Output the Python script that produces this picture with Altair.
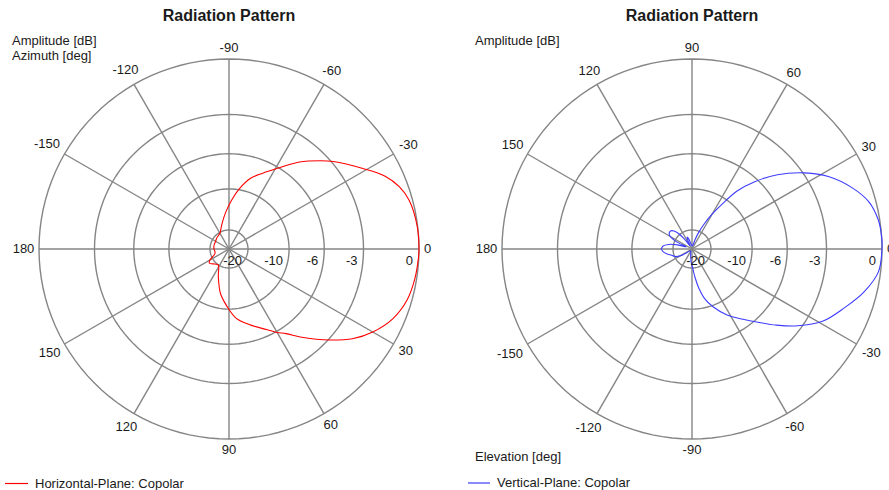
import altair as alt
import pandas as pd

# ---------------- data ----------------
# Horizontal plane (azimuth, clockwise: -90 at top), amplitude in dB
H_ANG = [-180, -165, -150, -139, -130, -120, -107, -96, -87, -80,
         -73, -66, -59, -51, -44, -40, -31, -25, -20, -15,
         -7, 0, 3, 9, 16, 23, 30, 36, 42, 46,
         51, 56, 60, 65, 74, 84, 92, 101, 111, 124,
         133, 144, 150, 163, 180]
H_DB = [-22.0, -21.8, -21.8, -21.3, -21.0, -20.4, -17.6, -14.5, -11.8, -9.8,
        -8.2, -7.2, -6.1, -4.6, -3.5, -2.9, -1.7, -0.85, -0.4, -0.15,
        -0.02, 0.0, -0.02, -0.08, -0.22, -0.56, -1.17, -1.9, -2.9, -3.6,
        -4.5, -5.4, -5.9, -6.6, -7.6, -8.7, -10.4, -12.5, -16.1, -19.9,
        -19.3, -17.9, -18.7, -22.3, -22.0]

# Vertical plane (elevation, counter-clockwise: 90 at top), amplitude in dB
V_ANG = [-180, -175, -170, -165, -160, -155, -150, -145, -138, -125,
         -112, -103, -97, -92, -88, -84, -80, -76, -70, -62,
         -54, -48, -42, -36, -29, -21, -14, -7, 0, 4,
         9, 15, 21, 28, 34, 41, 47, 52, 56, 60,
         64, 68, 72, 76, 85, 95, 103, 108, 112, 116,
         121, 126, 130, 135, 140, 145, 150, 155, 159, 164,
         169, 174, 180]
V_DB = [-15.8, -16.3, -17.2, -18.5, -19.5, -20.5, -23.0, -28.0, -36.0, -38.0,
        -35.0, -30.0, -26.0, -22.0, -20.0, -16.5, -13.5, -11.5, -9.8, -8.1,
        -6.8, -5.7, -4.45, -3.25, -2.1, -1.3, -0.6, -0.1, 0.0, 0.0,
        -0.07, -0.33, -0.9, -1.8, -2.9, -4.5, -6.3, -8.2, -10.8, -13.5,
        -16.6, -20.5, -26.0, -34.0, -36.0, -34.0, -30.0, -25.0, -23.3, -26.0,
        -34.0, -26.0, -20.0, -17.5, -16.6, -16.7, -17.5, -21.0, -30.0, -22.0,
        -18.0, -16.3, -15.8]

RING_DB = [-20, -10, -6, -3, 0]
RING_LABELS = ["-20", "-10", "-6", "-3", "0"]
SPOKE_ANG = [0, 30, 60, 90, 120, 150, 180, 210, 240, 270, 300, 330]
ANGLE_LABELS = ["-150", "-120", "-90", "-60", "-30", "0",
                "30", "60", "90", "120", "150", "180"]

TITLE = "Radiation Pattern"
H_NAME = "Horizontal-Plane: Copolar"
V_NAME = "Vertical-Plane: Copolar"

# ---------------- styling / layout ----------------
FONT = "Liberation Sans"
PX = 190.0          # pixels of the 0 dB ring
HEIGHT = 490
CY = 249
GRID = "#858585"
TXT = "#1a1a1a"


def panel(ang, db, name, color, ydir, cx, width, top_lines, bottom_text,
          text_x, legend_x, sym_len, clip_labels):
    xs = alt.Scale(domain=[-cx / PX, (width - cx) / PX], nice=False, zero=False)
    ys = alt.Scale(domain=[-(HEIGHT - CY) / PX, CY / PX], nice=False, zero=False)

    def X(f):
        return alt.X(f, type="quantitative", scale=xs, axis=None)

    def Y(f):
        return alt.Y(f, type="quantitative", scale=ys, axis=None)

    ring_df = pd.DataFrame([(d, a) for d in RING_DB for a in range(0, 361, 3)],
                           columns=["db", "a"])
    rings = alt.Chart(ring_df).transform_calculate(
        r="pow(10, datum.db / 20)",
        x="datum.r * cos(datum.a * PI / 180)",
        y="datum.r * sin(datum.a * PI / 180)",
    ).mark_line(stroke=GRID, strokeWidth=1.4).encode(
        x=X("x"), y=Y("y"), detail="db:N", order="a:Q")

    spokes = alt.Chart(pd.DataFrame({"a": SPOKE_ANG})).transform_calculate(
        x0="0", y0="0",
        x1="cos(datum.a * PI / 180)",
        y1="sin(datum.a * PI / 180)",
    ).mark_rule(stroke=GRID, strokeWidth=1.4).encode(
        x=X("x0"), y=Y("y0"), x2="x1:Q", y2="y1:Q")

    curve_df = pd.DataFrame({"ang": ang, "db": db, "i": range(len(ang)),
                             "series": name})
    curve = alt.Chart(curve_df).transform_calculate(
        r="pow(10, datum.db / 20)",
        x="datum.r * cos(datum.ang * PI / 180)",
        y=f"{ydir} * datum.r * sin(datum.ang * PI / 180)",
    ).mark_line(strokeWidth=1.1, interpolate="catmull-rom").encode(
        x=X("x"), y=Y("y"), order="i:Q",
        color=alt.Color("series:N",
                        scale=alt.Scale(domain=[name], range=[color]),
                        legend=alt.Legend(orient="none", legendX=legend_x,
                                          legendY=471, title=None,
                                          symbolType="stroke",
                                          symbolSize=sym_len ** 2,
                                          symbolStrokeWidth=1.2,
                                          labelFont=FONT, labelFontSize=13,
                                          labelColor=TXT, labelOffset=6,
                                          padding=0)))

    ang_labels = alt.Chart(pd.DataFrame({"label": ANGLE_LABELS})).transform_calculate(
        a="toNumber(datum.label)",
    ).transform_calculate(
        rl="(195 + 3.5 * length(datum.label) * abs(cos(datum.a * PI / 180))"
           " + 6 * abs(sin(datum.a * PI / 180))) / " + str(PX),
    ).transform_calculate(
        x="datum.rl * cos(datum.a * PI / 180)",
        y=f"{ydir} * datum.rl * sin(datum.a * PI / 180)",
    ).mark_text(font=FONT, fontSize=13, color=TXT, align="center",
                baseline="middle", clip=clip_labels).encode(
        x=X("x"), y=Y("y"), text="label:N")

    rad_labels = alt.Chart(pd.DataFrame({"db": RING_DB, "label": RING_LABELS})).transform_calculate(
        x=f"pow(10, datum.db / 20) - 6 / {PX}",
        y=f"-12 / {PX}",
    ).mark_text(font=FONT, fontSize=13, color=TXT, align="right",
                baseline="middle").encode(x=X("x"), y=Y("y"), text="label:N")

    title = alt.Chart(pd.DataFrame({"t": [TITLE]})).mark_text(
        font=FONT, fontSize=16, fontWeight="bold", color=TXT,
        align="center", baseline="alphabetic").encode(
        x=alt.value(cx), y=alt.value(21), text="t:N")

    layers = [rings, spokes, curve, ang_labels, rad_labels, title]
    for k, line in enumerate(top_lines):
        layers.append(alt.Chart(pd.DataFrame({"t": [line]})).mark_text(
            font=FONT, fontSize=13, color=TXT, align="left",
            baseline="alphabetic").encode(
            x=alt.value(text_x), y=alt.value(45 + 14.5 * k), text="t:N"))
    if bottom_text:
        layers.append(alt.Chart(pd.DataFrame({"t": [bottom_text]})).mark_text(
            font=FONT, fontSize=13, color=TXT, align="left",
            baseline="alphabetic").encode(
            x=alt.value(text_x), y=alt.value(461), text="t:N"))

    return alt.layer(*layers).properties(width=width, height=HEIGHT)


left = panel(H_ANG, H_DB, H_NAME, "#ff0000", -1, 229, 445,
             ["Amplitude [dB]", "Azimuth [deg]"], None, 12, 4, 23, False)
right = panel(V_ANG, V_DB, V_NAME, "#3c3cff", 1, 247, 444,
              ["Amplitude [dB]"], "Elevation [deg]", 30, 22, 22, True)

chart = alt.hconcat(left, right, spacing=0, bounds="flush").resolve_scale(
    x="independent", y="independent", color="independent"
).resolve_legend(color="independent").properties(
    padding=0, background="white"
).configure(font=FONT).configure_view(stroke=None)

chart.save("out.html", embed_options={"renderer": "svg", "actions": False})
